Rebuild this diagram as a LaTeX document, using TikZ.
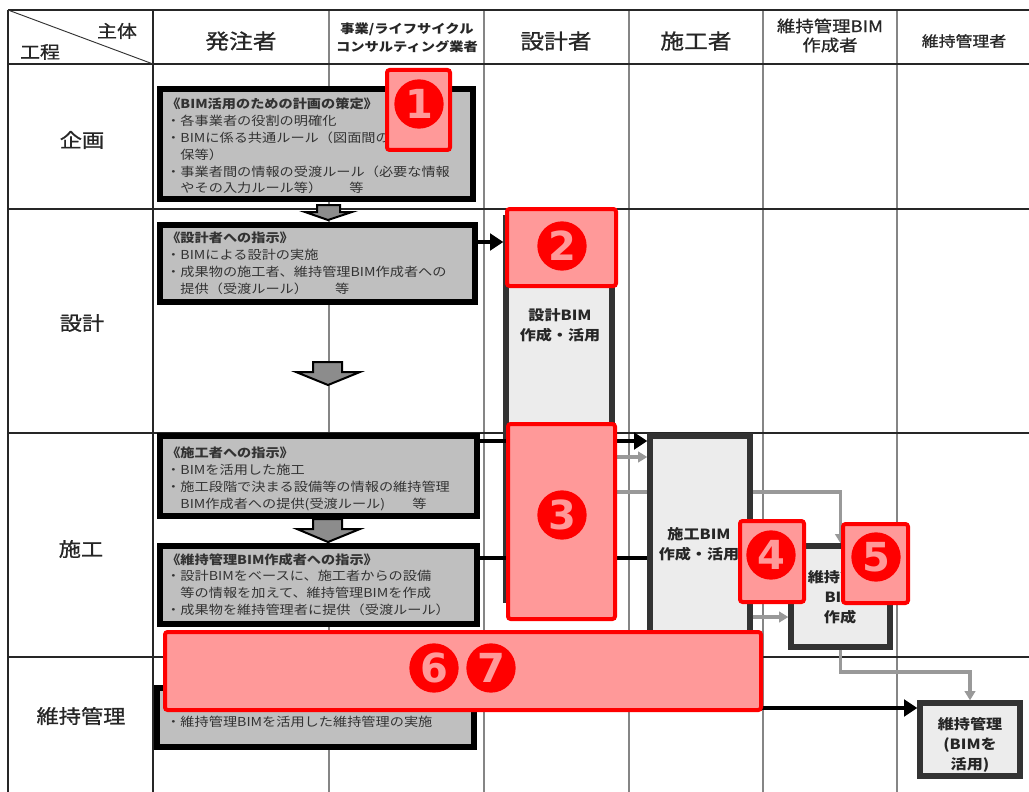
\documentclass[tikz,border=0pt]{standalone}
\usepackage{fontspec}
\usetikzlibrary{arrows.meta,fit}
\newfontfamily\jp[FakeStretch=1.15]{Noto Sans CJK JP}
\newfontfamily\jpm[FakeStretch=1.15,FakeBold=0.9]{Noto Sans CJK JP}
\newfontfamily\numfont{DejaVu Sans}
\definecolor{boxgray}{HTML}{BFBFBF}
\definecolor{bimgray}{HTML}{ECECEC}
\definecolor{gridgray}{HTML}{858585}
\definecolor{txtgray}{HTML}{333333}
\definecolor{arrgray}{HTML}{999999}
\definecolor{hlfill}{HTML}{FF9999}
\definecolor{hlred}{HTML}{FF0000}
\definecolor{bimedge}{HTML}{333333}
\definecolor{barrowfill}{HTML}{8C8C8C}
\begin{document}
\begin{tikzpicture}[x=0.75pt,y=-0.75pt,
  gridh/.style={line width=0.9pt, black!85},
  gridv/.style={line width=0.9pt, gridgray},
  ibox/.style={draw=black, line width=4pt, fill=boxgray, inner sep=0pt},
  bbox/.style={draw=bimedge, line width=4pt, fill=bimgray, inner sep=0pt},
  itext/.style={anchor=north west, inner sep=0pt, align=left, text=txtgray, font=\jp\fontsize{9.25}{12.6}\selectfont},
  btext/.style={align=center, inner sep=0pt, text=black!85, font=\jp\bfseries\fontsize{10.5}{15}\selectfont},
  blk/.style={line width=3pt, -{Triangle[length=10pt,width=12.5pt]}},
  gry/.style={line width=2.6pt, draw=arrgray, -{Triangle[length=7pt,width=8pt]}},
  barrow/.style={draw=black, line width=1.5pt, fill=barrowfill, line join=miter},
  hl/.style={draw=hlred, fill=hlfill, line width=3pt, rounded corners=2pt, inner sep=0pt},
  num/.style={circle, fill=hlred, text=hlfill, inner sep=0pt, minimum size=37pt, font=\numfont\bfseries\fontsize{30}{30}\selectfont},
  colhead/.style={font=\jpm\fontsize{15.5}{17}\selectfont, text=black!85},
  smallhead/.style={font=\jpm\fontsize{12}{14}\selectfont, text=black!85, align=center},
  tinyhead/.style={font=\jp\bfseries\fontsize{9.3}{11}\selectfont, text=black!85},
  rowhead/.style={font=\jpm\fontsize{14.5}{17}\selectfont, text=black!85},
]
\useasboundingbox (0,0) rectangle (1029,792);
\fill[white] (0,0) rectangle (1029,792);

% ---------- grid ----------
\draw[gridv] (329,10) -- (329,792);
\draw[gridv] (484,10) -- (484,792);
\draw[gridv] (629,10) -- (629,792);
\draw[gridv] (763,10) -- (763,792);
\draw[gridv] (897,10) -- (897,792);
\draw[gridh] (8,10) -- (1029,10);
\draw[gridh] (8,64) -- (1029,64);
\draw[gridh] (8,209) -- (1029,209);
\draw[gridh] (8,433) -- (1029,433);
\draw[gridh] (8,657) -- (1029,657);
\draw[gridh] (8,10) -- (8,792);
\draw[gridh] (153,10) -- (153,792);
\draw[line width=0.7pt, black!80] (8,10) -- (153,64);

% ---------- headers ----------
\node[colhead, font=\jpm\fontsize{13}{15}\selectfont] (hsubj) at (117,31) {主体};
\node[colhead, font=\jpm\fontsize{13}{15}\selectfont] (hproc) at (40,52) {工程};
\node[colhead] (h1) at (241,41) {発注者};
\node[tinyhead] (h2a) at (407,29) {事業/ライフサイクル};
\node[tinyhead] (h2b) at (407,47) {コンサルティング業者};
\node[colhead] (h3) at (556,41) {設計者};
\node[colhead] (h4) at (696,41) {施工者};
\node[smallhead] (h5a) at (830,26) {維持管理BIM};
\node[smallhead] (h5b) at (830,45) {作成者};
\node[smallhead, font=\jpm\fontsize{11}{13}\selectfont] (h6) at (964,41) {維持管理者};

\node[rowhead] (r1) at (82,140) {企画};
\node[rowhead] (r2) at (82,323) {設計};
\node[rowhead] (r3) at (81,549) {施工};
\node[rowhead] (r4) at (81,716) {維持管理};

% ---------- instruction boxes ----------
\node[ibox, fit={(160,89)(473,199)}] (plan) {};
\node[ibox, fit={(160,225)(475,302)}] (desinstr) {};
\node[ibox, fit={(160,436)(477,516)}] (coninstr) {};
\node[ibox, fit={(160,546)(477,624)}] (mbiminstr) {};
\node[ibox, fit={(157,688)(474,747)}] (maintinstr) {};

\node[itext] (plantxt) at (166,98) {{\bfseries 《BIM活用のための計画の策定》}\\
・各事業者の役割の明確化\\
・BIMに係る共通ルール（図面間の\\
\phantom{・}保等）\\
・事業者間の情報の受渡ルール（必要な情報\\
\phantom{・}やその入力ルール等）\hspace{2.2em}等};

\node[itext] (desinstrtxt) at (166,232) {{\bfseries 《設計者への指示》}\\
・BIMによる設計の実施\\
・成果物の施工者、維持管理BIM作成者への\\
\phantom{・}提供（受渡ルール）\hspace{2.2em}等};

\node[itext] (coninstrtxt) at (166,447) {{\bfseries 《施工者への指示》}\\
・BIMを活用した施工\\
・施工段階で決まる設備等の情報の維持管理\\
\phantom{・}BIM作成者への提供(受渡ルール)\hspace{2.2em}等};

\node[itext] (mbiminstrtxt) at (166,553) {{\bfseries 《維持管理BIM作成者への指示》}\\
・設計BIMをベースに、施工者からの設備\\
\phantom{・}等の情報を加えて、維持管理BIMを作成\\
・成果物を維持管理者に提供（受渡ルール）};

\node[itext] (maintinstrtxt) at (166,716) {・維持管理BIMを活用した維持管理の実施};

% ---------- block arrows ----------
\draw[barrow] (317,205) -- (340,205) -- (340,212) -- (352,212) -- (328,220) -- (305,212) -- (317,212) -- cycle;
\draw[barrow] (313,362) -- (342,362) -- (342,372) -- (360,372) -- (328,385) -- (296,372) -- (313,372) -- cycle;
\draw[barrow] (313,519) -- (342,519) -- (342,529) -- (360,529) -- (328,542) -- (297,529) -- (313,529) -- cycle;

% ---------- BIM boxes and connectors ----------
\node[bbox, fit={(506,218)(612,600)}] (desbim) {};
\node[btext] (desbimtxt) at (560,325) {設計BIM\\作成・活用};

\node[bbox, fit={(791,546)(890,647)}] (mbim) {};
\node[bbox, fit={(920,703)(1020,776)}] (maint) {};

\draw[gry] (desbim.east |- 0,492) -| (mbim.north);
\draw[blk] (mbiminstr.east |- 0,558) -- (mbim.west |- 0,558);

\node[bbox, fit={(650,436)(750,642)}] (conbim) {};
\node[btext] (conbimtxt) at (699,544) {施工BIM\\作成・活用};
\node[btext] (mbimtxt) at (840,597) {維持管理\\BIM\\作成};
\node[btext] (mainttxt) at (970,745) {維持管理\\(BIMを\\活用)};

\draw[blk] (desinstr.east |- 0,242) -- (desbim.west |- 0,242);
\draw[blk] (coninstr.east |- 0,441) -- (conbim.west |- 0,441);
\draw[gry] (desbim.east |- 0,457) -- (conbim.west |- 0,457);
\draw[gry] (conbim.east |- 0,617) -- (mbim.west |- 0,617);
\draw[gry] (mbim.south) |- (maint.north |- 0,672) -- (maint.north);
\draw[blk] (maintinstr.east |- 0,708) -- (maint.west |- 0,708);

% ---------- highlight overlays ----------
\node[hl, fit={(387,70)(450,150)}] (hl1) {};
\node[num] (n1) at (419,104) {1};
\node[hl, fit={(507,209)(616,286)}] (hl2) {};
\node[num] (n2) at (562,246) {2};
\node[hl, fit={(508,424)(615,619)}] (hl3) {};
\node[num] (n3) at (562,515) {3};
\node[hl, fit={(740,521)(804,602)}] (hl4) {};
\node[num] (n4) at (771,555) {4};
\node[hl, fit={(843,524)(908,603)}] (hl5) {};
\node[num] (n5) at (876,557) {5};
\node[hl, fit={(165,632)(761,710)}] (hl67) {};
\node[num] (n6) at (434,668) {6};
\node[num] (n7) at (491,668) {7};
\end{tikzpicture}
\end{document}
